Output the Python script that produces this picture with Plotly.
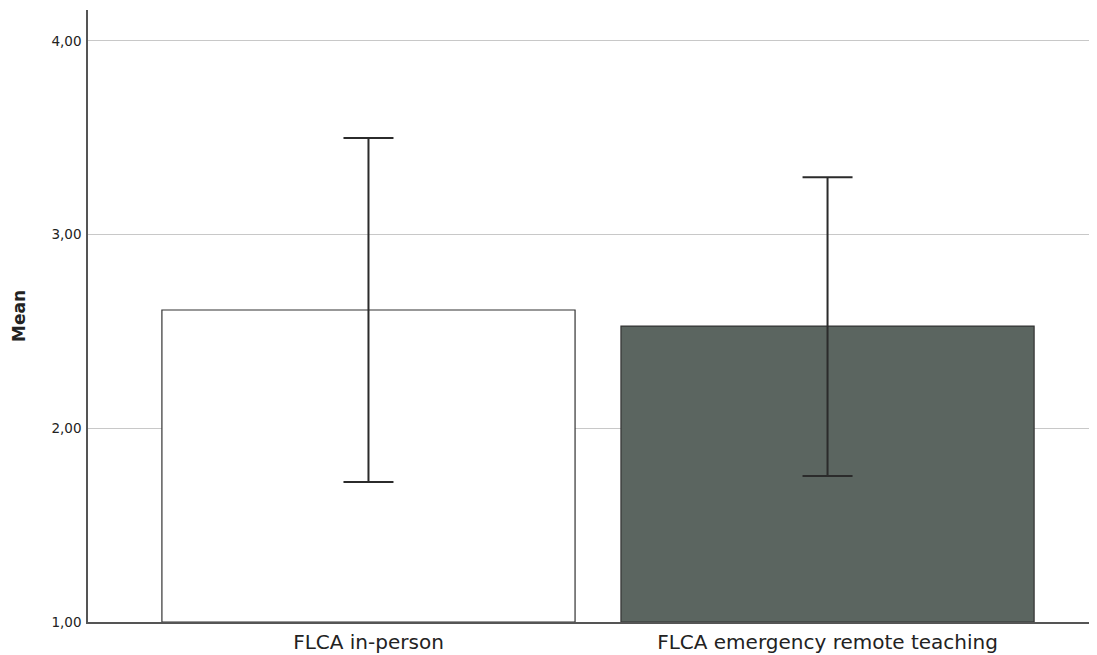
import plotly.graph_objects as go

categories = ["FLCA in-person", "FLCA emergency remote teaching"]
means = [2.611, 2.528]
err_upper = [3.499, 3.297]
err_lower = [1.723, 1.754]
bar_colors = ["#ffffff", "#5b6560"]

plus = [u - m for u, m in zip(err_upper, means)]
minus = [m - l for m, l in zip(means, err_lower)]

fig = go.Figure()
fig.add_trace(go.Bar(
    x=[0, 1], y=[m - 1 for m in means], base=1,
    width=0.9,
    marker=dict(color=bar_colors, line=dict(color="#333333", width=1.2)),
    error_y=dict(type="data", symmetric=False, array=plus, arrayminus=minus,
                 color="#2b2b2b", thickness=2, width=25),
    hoverinfo="skip",
))

# page body has an 8px margin: offset margins so the plot area lands where the reference has it
fig.update_layout(
    width=1089, height=647,
    margin=dict(l=80, r=0, t=2, b=33, autoexpand=False),
    paper_bgcolor="white", plot_bgcolor="white",
    separators=",.",
    showlegend=False,
    font=dict(family="DejaVu Sans", color="#222222"),
    xaxis=dict(
        tickmode="array", tickvals=[0, 1], ticktext=categories,
        range=[-0.611, 1.587], showgrid=False, zeroline=False,
        showline=True, linecolor="#555555", linewidth=1.5,
        tickfont=dict(size=20, color="#222222"), ticks="outside",
        ticklen=1, tickcolor="rgba(0,0,0,0)", automargin=False,
    ),
    yaxis=dict(
        range=[1, 4.16], tickvals=[1, 2, 3, 4], tickformat=".2f",
        showgrid=True, gridcolor="#c8c8c8", gridwidth=1.2, zeroline=False,
        showline=True, linecolor="#555555", linewidth=1.5,
        tickfont=dict(size=13.5, color="#222222"), ticks="outside",
        ticklen=2, tickcolor="rgba(0,0,0,0)", automargin=False,
        title=dict(text="<b>Mean</b>", font=dict(size=17, color="#222222"), standoff=22),
    ),
)

fig.write_html("out.html")
